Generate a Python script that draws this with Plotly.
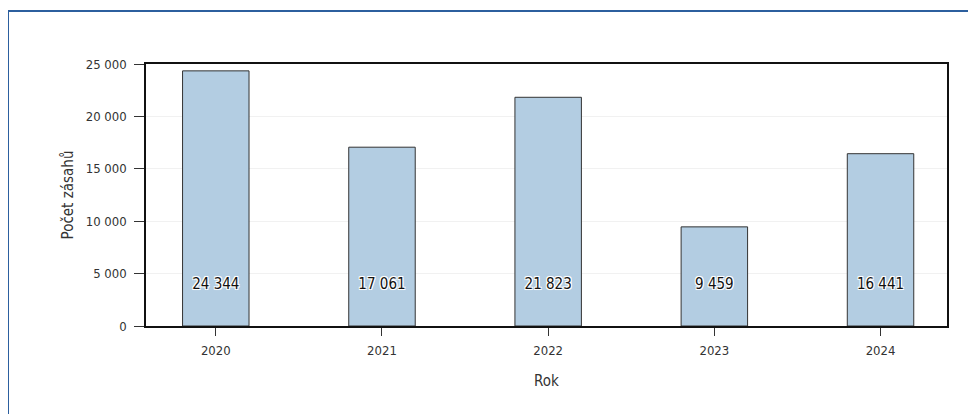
import plotly.graph_objects as go

years = ["2020", "2021", "2022", "2023", "2024"]
counts = [24344, 17061, 21823, 9459, 16441]
label_y = 3900
y_ticks = [0, 5000, 10000, 15000, 20000, 25000]

FONT = "DejaVu Sans Condensed, Liberation Sans Narrow, sans-serif"

fig = go.Figure()
fig.add_trace(go.Bar(
    x=list(range(len(years))), y=counts,
    width=0.4,
    marker=dict(color="#b3cde2", line=dict(color="#333333", width=1)),
    hoverinfo="y",
))
fig.add_trace(go.Scatter(
    x=list(range(len(years))), y=[label_y] * len(years),
    mode="text",
    text=[f"{v:,}".replace(",", " ") for v in counts],
    textfont=dict(family=FONT, size=15, color="#111111",
                  shadow="1px 1px 0px #fff, -1px -1px 0px #fff, 1px -1px 0px #fff, -1px 1px 0px #fff, 0px 0px 2px #fff"),
    hoverinfo="skip",
))

# page offset of ~8px (body margin) taken into account
W, H = 968, 406
L, R, T, B = 138, 29, 56, 88
pw, ph = W - L - R, H - T - B
fx = (0 - L) / pw
fy = 1 + (T - 3) / ph

fig.update_layout(
    width=W, height=H,
    margin=dict(l=L, r=R, t=T, b=B),
    paper_bgcolor="white", plot_bgcolor="white",
    showlegend=False,
    separators=", ",
    font=dict(family=FONT, size=13, color="#333333"),
    xaxis=dict(
        tickmode="array", tickvals=list(range(len(years))), ticktext=years,
        range=[-0.42, 4.40],
        showline=True, linecolor="#111111", linewidth=1.5, mirror=True,
        ticks="outside", ticklen=8, tickcolor="#333333",
        ticklabelstandoff=4,
        showgrid=False, zeroline=False,
        title=dict(text="Rok", font=dict(size=15, color="#333333"), standoff=18),
        tickfont=dict(size=13),
    ),
    yaxis=dict(
        range=[0, 25000], tickvals=y_ticks,
        tickformat=",d",
        showline=True, linecolor="#111111", linewidth=1.5, mirror=True,
        ticks="outside", ticklen=10, tickcolor="#333333",
        ticklabelstandoff=5,
        showgrid=True, gridcolor="#f1f1f1", gridwidth=1,
        zeroline=False,
        title=dict(text="Počet zásahů", font=dict(size=15, color="#333333"), standoff=8),
        tickfont=dict(size=13),
    ),
    shapes=[dict(
        type="path", xref="paper", yref="paper",
        path=f"M {fx},-1 L {fx},{fy} L 2,{fy}",
        line=dict(color="#2c5f9e", width=2), layer="above",
    )],
)

fig.write_html("out.html")
